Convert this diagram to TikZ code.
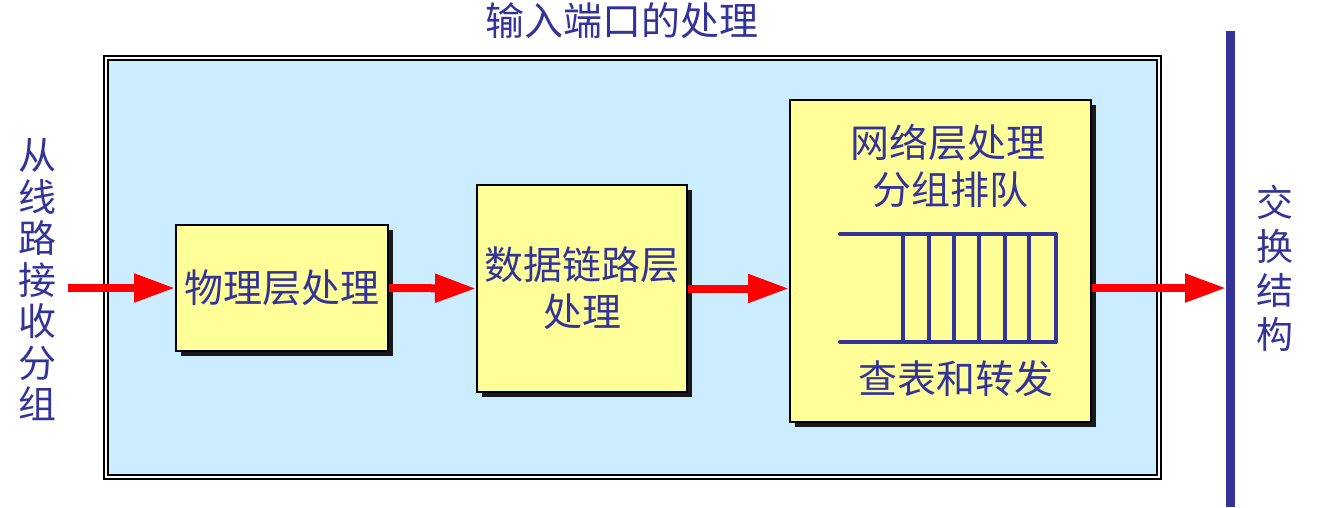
\documentclass[tikz,border=0pt]{standalone}
\usepackage{fontspec}
\newfontfamily\cjk{Noto Sans CJK SC}
\usetikzlibrary{arrows.meta,shadows}
\definecolor{navy}{HTML}{333399}
\definecolor{panel}{HTML}{CCECFF}
\definecolor{boxfill}{HTML}{FFFF99}
\definecolor{arrowred}{HTML}{FF0000}
\begin{document}
\begin{tikzpicture}[x=1pt,y=-1pt,
  proc/.style={draw=black, line width=2pt, fill=boxfill, text=navy,
    font=\cjk\fontsize{39}{47}\selectfont, align=center, inner sep=0pt,
    drop shadow={shadow xshift=5pt, shadow yshift=-5pt, fill=black!90, opacity=1}},
  lbl/.style={text=navy, inner sep=0pt, align=center},
  flow/.style={draw=arrowred, line width=8pt, -{Triangle[length=41pt,width=27pt]}},
  queue/.style={draw=navy, line width=4pt, line cap=round, line join=round}]
\useasboundingbox (0,0) rectangle (1318,507);
% panel with double frame
\draw[line width=2pt] (104,56) rectangle (1161,479);
\draw[line width=2.5pt, fill=panel] (108,60) rectangle (1157,475);
% title
\node[lbl, font=\cjk\fontsize{39}{46}\selectfont] (title) at (622,21) {输入端口的处理};
% switch fabric bar
\draw[navy, line width=9pt] (1230,31) -- (1230,507);
\coordinate (barhit) at (1226,288);
\coordinate (src) at (68,288);
% side labels
\node[lbl, font=\cjk\fontsize{38}{41.5}\selectfont] (inlabel) at (37,280) {从\\线\\路\\接\\收\\分\\组};
\node[lbl, font=\cjk\fontsize{37}{44}\selectfont] (outlabel) at (1275,268) {交\\换\\结\\构};
% boxes
\node[proc, minimum width=212pt, minimum height=126pt] (b1) at (282,288) {物理层处理};
\node[proc, minimum width=210pt, minimum height=207pt] (b2) at (582,288.5) {数据链路层\\处理};
\node[proc, minimum width=301pt, minimum height=322pt] (b3) at (940.5,261) {};
\node[lbl, font=\cjk\fontsize{39}{47}\selectfont] (t3a) at (948,143) {网络层处理};
\node[lbl, font=\cjk\fontsize{39}{47}\selectfont] (t3b) at (950,190) {分组排队};
\node[lbl, font=\cjk\fontsize{39}{47}\selectfont] (t3c) at (956,379) {查表和转发};
% queue
\draw[queue] (840,234) -- (1056,234) -- (1056,342) -- (840,342);
\foreach \qx in {903,929,954,979,1005,1029}
  \draw[queue] (\qx,234) -- (\qx,342);
% arrows
\draw[flow] (src) -- (b1.west);
\draw[flow] (b1.east) -- (b2.west);
\draw[flow] (b2.east) -- (b2.east -| b3.west);
\draw[flow] (b3.east |- barhit) -- (barhit);
\end{tikzpicture}
\end{document}
